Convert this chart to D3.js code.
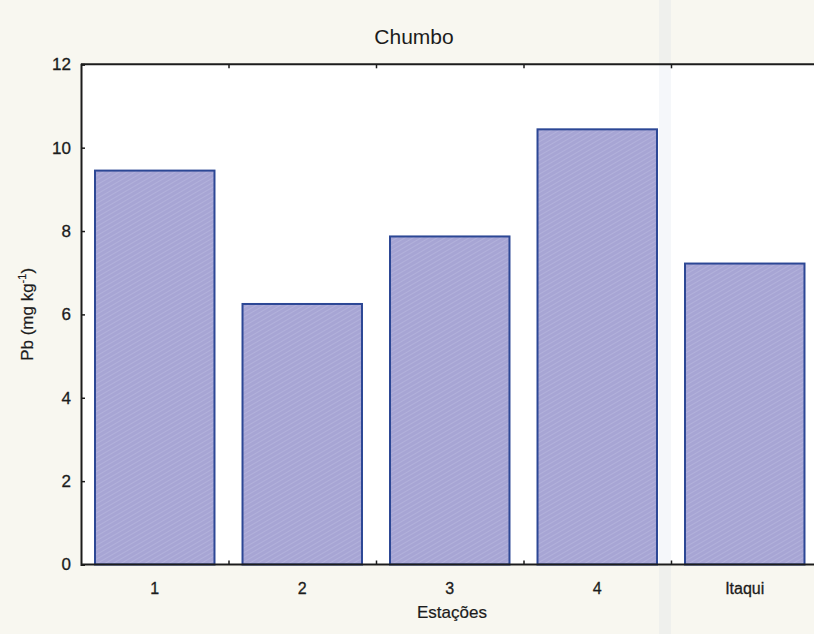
<!DOCTYPE html>
<html>
<head>
<meta charset="utf-8">
<script src="https://cdn.jsdelivr.net/npm/d3@7"></script>
<style>
  html, body { margin: 0; padding: 0; background: #f8f7f0; }
  svg { display: block; }
  text { font-family: "Liberation Sans", Arial, sans-serif; fill: #1c1c1c; }
</style>
</head>
<body>
<svg id="chart" width="814" height="634"></svg>
<script>
// Lead (Pb) concentration per sampling station
const stations = ["1", "2", "3", "4", "Itaqui"];
const pbValues = [9.45, 6.25, 7.87, 10.44, 7.22];
const yTicks = [0, 2, 4, 6, 8, 10, 12];

const svg = d3.select("#chart");
const plotLeft = 81, plotRight = 818.5, plotTop = 64.3, plotBottom = 564.5;

const x = d3.scaleBand().domain(stations).range([plotLeft, plotRight]).paddingInner(0.19).paddingOuter(0.095);
const xEdges = d3.scaleLinear().domain([0, stations.length]).range([plotLeft, plotRight]);
const y = d3.scaleLinear().domain([0, 12]).range([plotBottom, plotTop]);

// plot background
svg.append("rect").attr("x", plotLeft).attr("y", plotTop)
  .attr("width", plotRight - plotLeft).attr("height", plotBottom - plotTop).attr("fill", "#ffffff");

// faint vertical streak across the page, beneath the frame
svg.append("rect").attr("x", 659).attr("y", 0).attr("width", 12).attr("height", 634)
  .attr("fill", "#c9d2e2").attr("opacity", 0.18);

// fine diagonal texture for the bar fill
const defs = svg.append("defs");
const pat = defs.append("pattern").attr("id", "hatch").attr("patternUnits", "userSpaceOnUse")
  .attr("width", 4).attr("height", 4).attr("patternTransform", "rotate(60)");
pat.append("rect").attr("width", 4).attr("height", 4).attr("fill", "#a7a5d4");
pat.append("line").attr("x1", 0).attr("y1", 0).attr("x2", 0).attr("y2", 4)
  .attr("stroke", "#bab9e0").attr("stroke-width", 1.2);

// bars
svg.selectAll("rect.bar").data(stations).join("rect")
  .attr("class", "bar")
  .attr("x", d => x(d))
  .attr("width", x.bandwidth())
  .attr("y", (d, i) => y(pbValues[i]))
  .attr("height", (d, i) => y(0) - y(pbValues[i]))
  .attr("fill", "url(#hatch)")
  .attr("stroke", "#2c4795")
  .attr("stroke-width", 2);

// left axis with inward ticks
const yAxis = svg.append("g").attr("transform", `translate(${plotLeft},0)`)
  .call(d3.axisLeft(y).tickValues(yTicks).tickSize(-4).tickPadding(10).tickFormat(d3.format("d")));
yAxis.select(".domain").attr("stroke", "#1c1c1c").attr("stroke-width", 2);
yAxis.selectAll(".tick line").attr("stroke", "#1c1c1c").attr("stroke-width", 1.5);
yAxis.selectAll("text").attr("font-size", 17).attr("fill", "#1c1c1c")
  .attr("stroke", "#1c1c1c").attr("stroke-width", 0.3);

// bottom axis: boundary ticks pointing inward, labels under the bars
const boundaries = d3.range(1, stations.length);
const xAxis = svg.append("g").attr("transform", `translate(0,${plotBottom})`)
  .call(d3.axisBottom(xEdges).tickValues(boundaries).tickSize(-4).tickFormat(""));
xAxis.select(".domain").attr("d", `M${plotLeft},0H${plotRight}`).attr("stroke", "#1c1c1c").attr("stroke-width", 2);
xAxis.selectAll(".tick line").attr("stroke", "#1c1c1c").attr("stroke-width", 1.5);

svg.append("g").selectAll("text").data(stations).join("text")
  .attr("x", d => x(d) + x.bandwidth() / 2)
  .attr("y", plotBottom + 29)
  .attr("text-anchor", "middle")
  .attr("font-size", 16)
  .attr("stroke", "#1c1c1c").attr("stroke-width", 0.3)
  .text(d => d);

// top frame line with inward ticks
const topAxis = svg.append("g").attr("transform", `translate(0,${plotTop})`)
  .call(d3.axisTop(xEdges).tickValues(boundaries).tickSize(-4).tickFormat(""));
topAxis.select(".domain").attr("d", `M${plotLeft},0H${plotRight}`).attr("stroke", "#1c1c1c").attr("stroke-width", 2);
topAxis.selectAll(".tick line").attr("stroke", "#1c1c1c").attr("stroke-width", 1.5);

// title and axis titles
svg.append("text").attr("x", 414).attr("y", 44).attr("text-anchor", "middle")
  .attr("font-size", 21).text("Chumbo");

svg.append("text").attr("x", 452).attr("y", 618).attr("text-anchor", "middle")
  .attr("font-size", 17).attr("stroke", "#1c1c1c").attr("stroke-width", 0.2).text("Estações");

const yl = svg.append("text")
  .attr("transform", `translate(33,${(plotTop + plotBottom) / 2}) rotate(-90)`)
  .attr("text-anchor", "middle").attr("font-size", 17)
  .attr("stroke", "#1c1c1c").attr("stroke-width", 0.2);
yl.append("tspan").text("Pb (mg kg");
yl.append("tspan").attr("font-size", 11).attr("dy", -7).text("-1");
yl.append("tspan").attr("dy", 7).text(")");
</script>
</body>
</html>
